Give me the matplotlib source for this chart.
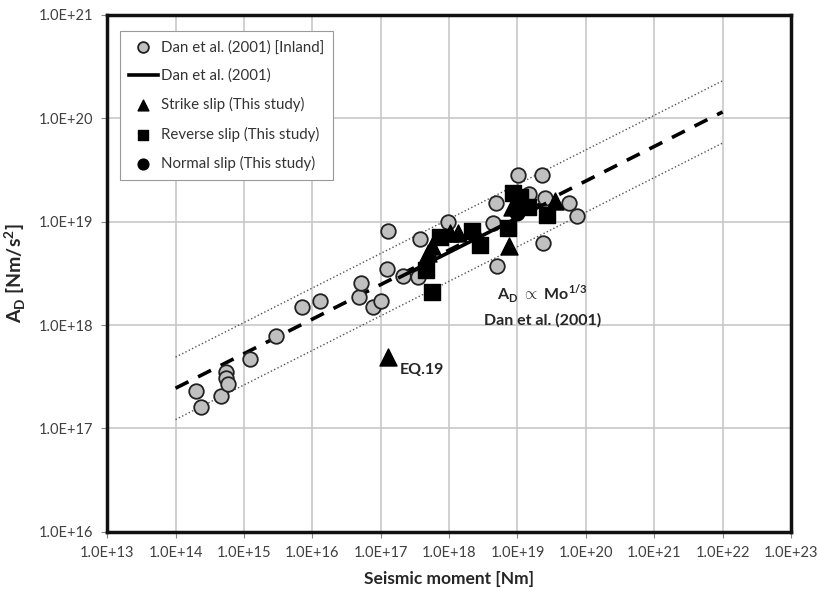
import matplotlib
matplotlib.use("Agg")
import matplotlib.pyplot as plt
from matplotlib.ticker import FixedLocator, NullLocator

plt.rcParams['font.family'] = ['Lato', 'DejaVu Sans']
plt.rcParams['mathtext.fontset'] = 'custom'
plt.rcParams['mathtext.rm'] = 'Lato:bold'
plt.rcParams['mathtext.bf'] = 'Lato:bold'

# Dan et al. (2001) inland data
dan_m = [2.0e14, 2.35e14, 4.6e14, 5.4e14, 5.5e14, 5.9e14, 1.23e15, 2.95e15, 7.1e15, 1.3e16,
         4.8e16, 5.1e16, 7.7e16, 1.02e17, 1.24e17, 1.3e17, 2.1e17, 3.5e17, 3.8e17, 9.8e17,
         4.4e18, 4.9e18, 5.0e18, 1.02e19, 2.3e19, 1.48e19, 2.5e19, 5.6e19, 7.4e19, 2.35e19]
dan_a = [2.3e17, 1.6e17, 2.05e17, 3.5e17, 3.1e17, 2.7e17, 4.7e17, 7.9e17, 1.5e18, 1.7e18,
         1.85e18, 2.55e18, 1.5e18, 1.7e18, 3.5e18, 8.1e18, 3.0e18, 2.9e18, 6.8e18, 1.0e19,
         9.8e18, 1.5e19, 3.7e18, 2.8e19, 2.8e19, 1.85e19, 1.7e19, 1.5e19, 1.14e19, 6.2e18]

# this study
strike_m = [5.6e17, 4.9e17, 1.02e18, 1.35e18, 7.6e18, 3.55e19, 8.4e18, 1.29e17]
strike_a = [5.8e18, 5.0e18, 7.8e18, 7.8e18, 5.8e18, 1.6e19, 1.4e19, 4.9e17]
reverse_m = [7.4e17, 2.2e18, 2.8e18, 7.2e18, 8.7e18, 1.1e19, 1.42e19, 2.7e19, 4.6e17, 5.6e17]
reverse_a = [7.1e18, 8.1e18, 5.9e18, 8.7e18, 1.9e19, 1.74e19, 1.38e19, 1.17e19, 3.4e18, 2.1e18]
normal_m = [9.8e18]
normal_a = [1.2e19]

# scaling law A_D ~ Mo^(1/3)
law_m = [1e14, 1e22]
law_a = [2.45e17, 1.15e20]
law_hi = [4.9e17, 2.3e20]
law_lo = [1.22e17, 5.75e19]
fit_m = [1.9e17, 2.5e19]
fit_a = [2.9e18, 1.48e19]

xticks = [10.0 ** k for k in range(13, 24)]
yticks = [10.0 ** k for k in range(16, 22)]

fig = plt.figure(figsize=(8.18, 5.91), dpi=100)
ax = fig.add_axes([0.131, 0.100, 0.836, 0.875])
ax.set_xscale('log')
ax.set_yscale('log')

ax.plot(law_m, law_hi, ':', color='#555555', lw=1.0, zorder=2)
ax.plot(law_m, law_lo, ':', color='#555555', lw=1.0, zorder=2)
ax.plot(law_m, law_a, '--', color='black', lw=2.6, dashes=(4, 3), zorder=2)

ax.scatter(dan_m, dan_a, s=110, c='#c0c0c0', edgecolors='#222222', linewidths=1.3,
           zorder=3, label='Dan et al. (2001) [Inland]')
ax.plot(fit_m, fit_a, '-', color='black', lw=2.6, zorder=4, label='Dan et al. (2001)')
ax.scatter(strike_m, strike_a, s=150, marker='^', c='black', zorder=5,
           label='Strike slip (This study)')
ax.scatter(reverse_m, reverse_a, s=130, marker='s', c='black', zorder=5,
           label='Reverse slip (This study)')
ax.scatter(normal_m, normal_a, s=110, marker='o', c='black', zorder=5,
           label='Normal slip (This study)')

ax.text(1.9e17, 3.7e17, 'EQ.19', fontsize=11.5, fontweight='bold', color='#262626',
        va='center', ha='left')
ax.text(2.3e19, 2.0e18, 'A$_\\mathrm{D}$ $\\propto$ Mo$^{1/3}$', fontsize=11.5,
        fontweight='bold', color='#262626', ha='center', va='center')
ax.text(2.3e19, 1.12e18, 'Dan et al. (2001)', fontsize=11.5, fontweight='bold',
        color='#262626', ha='center', va='center')

ax.set_xlim(1e13, 1e23)
ax.set_ylim(1e16, 1e21)
ax.xaxis.set_major_locator(FixedLocator(xticks))
ax.yaxis.set_major_locator(FixedLocator(yticks))
ax.xaxis.set_minor_locator(NullLocator())
ax.yaxis.set_minor_locator(NullLocator())
ax.set_xticklabels(['1.0E+%d' % k for k in range(13, 24)])
ax.set_yticklabels(['1.0E+%d' % k for k in range(16, 22)])
ax.tick_params(labelsize=10.5, labelcolor='#404040', length=4, width=0.8, pad=6,
               color='#888888')
ax.grid(True, color='#c8c8c8', lw=1.2)
ax.set_axisbelow(True)
for sp in ax.spines.values():
    sp.set_linewidth(2.5)
    sp.set_color('#111111')

ax.set_xlabel('Seismic moment [Nm]', fontsize=12.5, fontweight='bold', color='#262626', labelpad=8)
ax.set_ylabel('A$_\\mathrm{D}$ [Nm/s$^\\mathrm{2}$]', fontsize=14, fontweight='bold',
              color='#262626', labelpad=8)

leg = ax.legend(loc='upper left', bbox_to_anchor=(0.008, 0.983), fontsize=10.8, frameon=True,
                fancybox=False, edgecolor='#999999', framealpha=1, labelspacing=0.95,
                handlelength=1.9, handletextpad=0.2, borderpad=0.6, scatterpoints=1)
leg.get_frame().set_linewidth(0.8)
for h in leg.legend_handles:
    if hasattr(h, 'set_sizes'):
        h.set_sizes([60])
for t in leg.get_texts():
    t.set_color('#333333')

fig.savefig('out.png', dpi=100)
